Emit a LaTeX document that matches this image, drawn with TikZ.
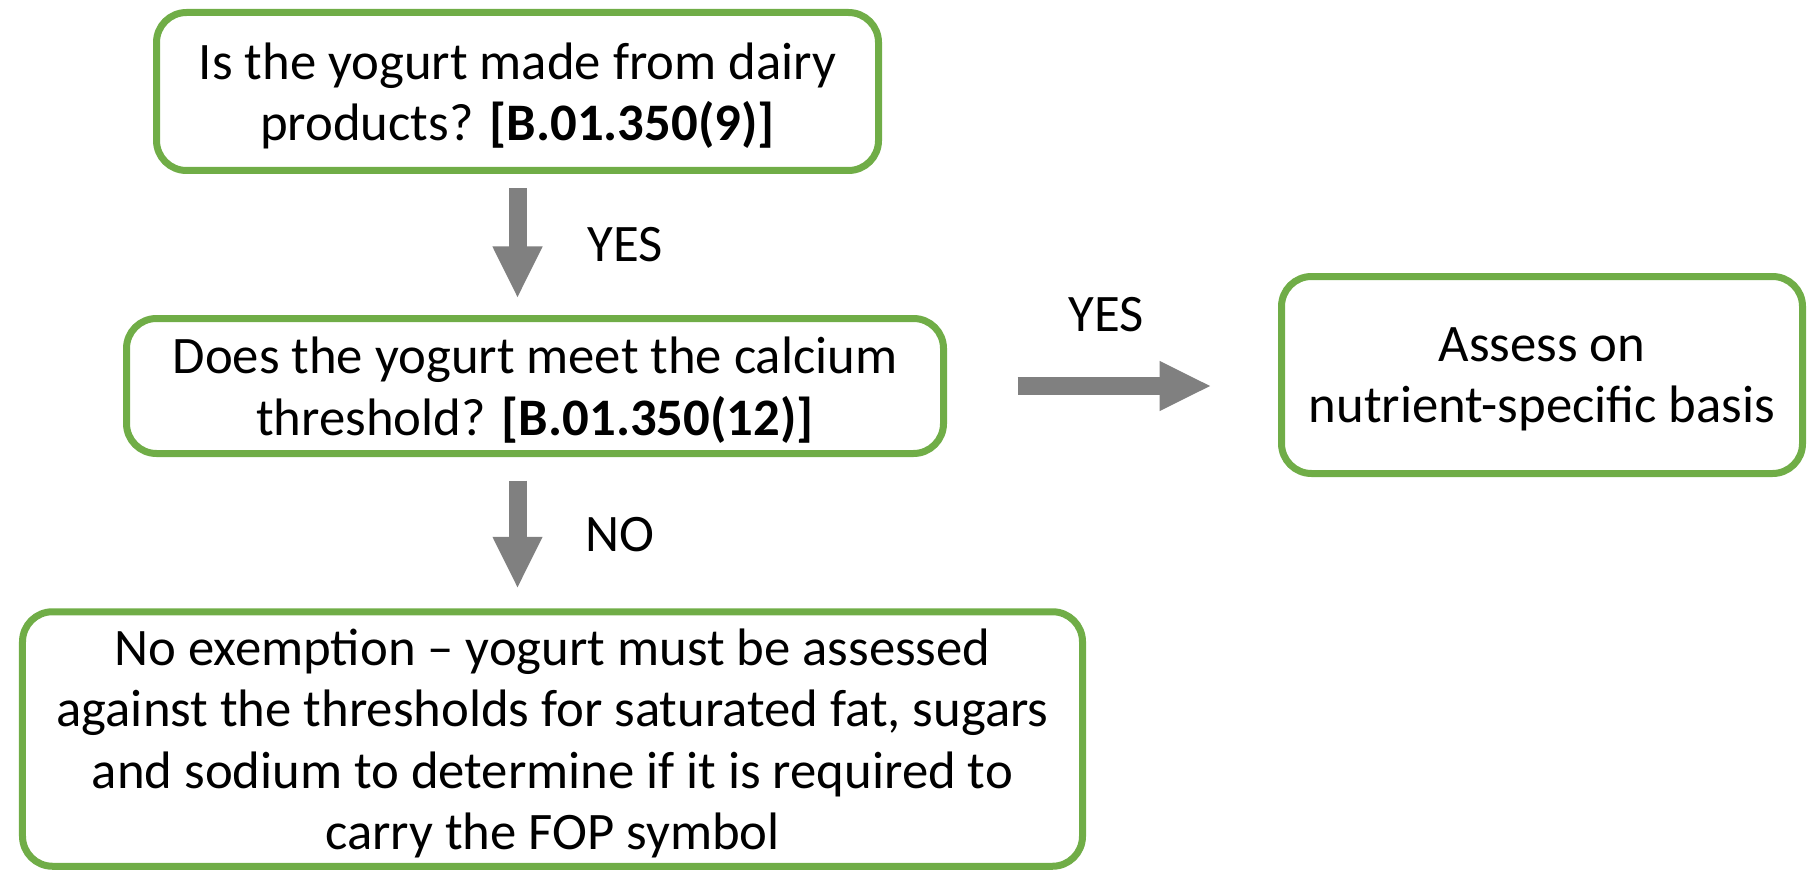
\documentclass[tikz,border=0pt]{standalone}
\usepackage{fontspec}
\setmainfont{Carlito}
\usepackage{xcolor}
\usepackage{tikz}
\usetikzlibrary{arrows.meta,positioning}

\definecolor{boxgreen}{RGB}{112,173,71}
\definecolor{arrgray}{RGB}{128,128,128}

\begin{document}
\begin{tikzpicture}[
  qbox/.style   = {draw=boxgreen, line width=0.07cm, rounded corners=0.3cm,
                   align=center, inner sep=0pt, outer sep=0pt, text depth=0pt,
                   font=\fontsize{15}{17.5}\selectfont},
  fatarr/.style = {draw=arrgray, line width=0.18cm,
                   -{Triangle[length=0.52cm, width=0.46cm]}},
  ans/.style    = {font=\fontsize{15}{17.5}\selectfont},
]
\useasboundingbox (0,0) rectangle (18.16,-8.72);

%% ── Question boxes ──────────────────────────────────────────────────────────
\node[qbox, minimum width=7.22cm, minimum height=1.58cm] (Q1) at (5.175,-0.915)
  {Is the yogurt made from dairy\\products? \textbf{[B.01.350(9)]}};
\node[qbox, minimum width=8.17cm, minimum height=1.35cm] (Q2) at (5.35,-3.86)
  {Does the yogurt meet the calcium\\threshold? \textbf{[B.01.350(12)]}};

%% ── Outcome boxes ───────────────────────────────────────────────────────────
\node[qbox, minimum width=5.21cm, minimum height=1.97cm] (R1) at (15.42,-3.75)
  {Assess on\\nutrient-specific basis};
\node[qbox, minimum width=10.60cm, minimum height=2.545cm] (R2) at (5.525,-7.39)
  {No exemption -- yogurt must be assessed\\against the thresholds for saturated fat, sugars\\and sodium to determine if it is required to\\carry the FOP symbol};

%% ── Arrows ──────────────────────────────────────────────────────────────────
\draw[fatarr, shorten <=0.18cm, shorten >=0.20cm]
  (Q1.south) -- (Q1.south |- Q2.north);
\draw[fatarr, shorten <=0.27cm, shorten >=0.23cm]
  (Q1.south |- Q2.south) -- (Q1.south |- R2.north);
\draw[fatarr, shorten <=0.74cm, shorten >=0.70cm]
  (Q2.east) -- (Q2.east -| R1.west);

%% ── Answer labels ───────────────────────────────────────────────────────────
\node[ans] (A1) at (6.25,-2.45) {YES};
\node[ans] (A2) at (6.20,-5.35) {NO};
\node[ans] (A3) at (11.06,-3.15) {YES};

\end{tikzpicture}
\end{document}
